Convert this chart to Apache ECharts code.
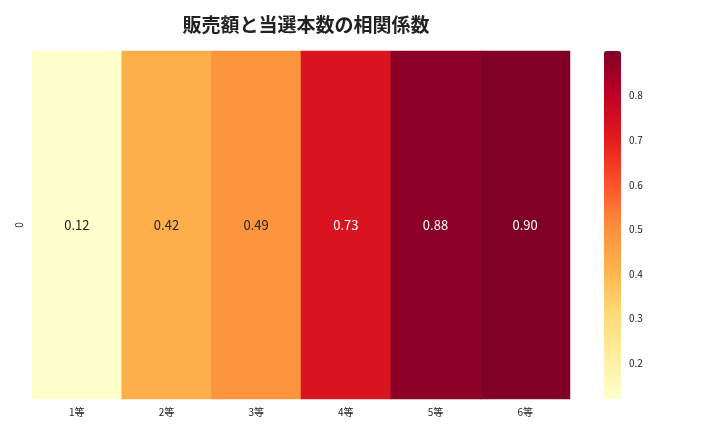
<!DOCTYPE html><html><head><meta charset="utf-8"><script src="https://cdn.jsdelivr.net/npm/echarts@6/dist/echarts.min.js"></script></head><body style="margin:0"><div id="c" style="width:720px;height:432px"></div><script>
const categories=['1等','2等','3等','4等','5等','6等'];
const rows=['0'];
const values=[0.12,0.42,0.49,0.73,0.88,0.90];
const cbTicks=[0.2,0.3,0.4,0.5,0.6,0.7,0.8];
const ff='"Noto Sans CJK JP","Noto Sans",sans-serif';
const c=echarts.init(document.getElementById('c'));
c.setOption({
title:{text:'販売額と当選本数の相関係数',left:301,top:10,textAlign:'center',textStyle:{fontFamily:ff,fontSize:19,fontWeight:'bold',color:'#222'}},
grid:[{left:32,top:51,width:538,height:348},{left:604,top:51,width:17,height:348,show:false}],
xAxis:[{type:'category',data:categories,gridIndex:0,axisLine:{show:false},axisTick:{length:4,lineStyle:{color:'#333'}},axisLabel:{fontFamily:ff,fontSize:10,color:'#222'},splitArea:{show:false}},
{type:'value',gridIndex:1,show:false}],
yAxis:[{type:'category',data:rows,gridIndex:0,axisLine:{show:false},axisTick:{length:4,lineStyle:{color:'#333'}},axisLabel:{fontFamily:ff,fontSize:10,rotate:90,color:'#222'}},
{type:'value',gridIndex:1,position:'right',min:0.12,max:0.90,axisLine:{show:false},splitLine:{show:false},axisTick:{show:true,length:4,customValues:cbTicks,lineStyle:{color:'#333'}},axisLabel:{fontFamily:ff,fontSize:10,color:'#222',customValues:cbTicks,formatter:v=>v.toFixed(1)}}],
visualMap:{type:'continuous',min:0.12,max:0.90,calculable:false,left:604,top:51,itemWidth:17,itemHeight:348,padding:0,text:null,showLabel:false,seriesIndex:0,
inRange:{color:['#ffffcc','#ffeda0','#fed976','#feb24c','#fd8d3c','#fc4e2a','#e31a1c','#bd0026','#800026']}},
series:[{type:'heatmap',xAxisIndex:0,yAxisIndex:0,data:values.map((v,i)=>[i,0,v]),
label:{show:true,fontFamily:ff,fontSize:13,formatter:p=>p.value[2].toFixed(2),color:'#222'},
labelLayout:null}]
});
const opt=c.getOption();
c.setOption({series:[{data:values.map((v,i)=>({value:[i,0,v],label:{color:v>0.6?'#fff':'#222'}}))}]});
</script></body></html>
